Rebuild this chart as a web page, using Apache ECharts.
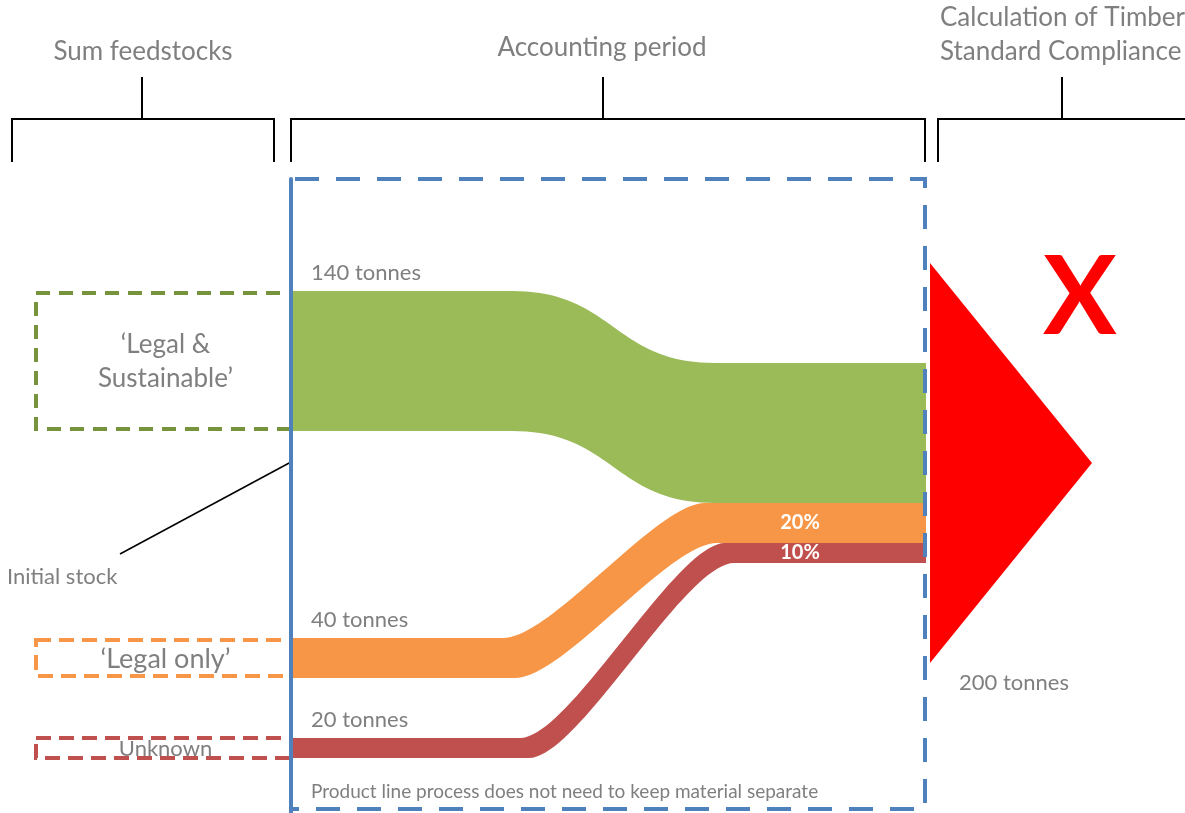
<!DOCTYPE html>
<html>
<head>
<meta charset="utf-8">
<script src="https://cdn.jsdelivr.net/npm/echarts@6/dist/echarts.min.js"></script>
<style>
  html, body { margin: 0; padding: 0; background: #ffffff; }
  #chart { width: 1185px; height: 813px; }
</style>
</head>
<body>
<div id="chart"></div>
<script>
// Feedstock categories and their input quantities (tonnes)
const categories = ['\u2018Legal &\nSustainable\u2019', '\u2018Legal only\u2019', 'Unknown'];
const tonnes = [140, 40, 20];
const unitLabel = 'tonnes';
const showShare = [false, true, true];

// Section headings above the brackets
const headings = ['Sum feedstocks', 'Accounting period', 'Calculation of Timber\nStandard Compliance'];
const footnote = 'Product line process does not need to keep material separate';
const stockLabel = 'Initial stock';

// Colours per category
const bandColors = ['#9bbb59', '#f79646', '#c0504d'];
const boxColors = ['#77933c', '#f79646', '#c0504d'];
const labelSize = [26, 27, 22];

// Layout of the flow (axis units, 1 unit = 1 tonne = 1 px)
const flowLeft = 291, flowRight = 926, boxLeft = 36;
const leftTop = [291, 638, 738];
const curveStart = [512, 503, 520];
const curveEnd = [715, 705, 725];
const curveShift = [0, 12, 9];
const tension = [0.5, 0.24, 0.24];
const stackTop = 363;
const shareX = 800;

const total = tonnes.reduce((a, b) => a + b, 0);
const FONT = 'Lato, "Open Sans", sans-serif';
const GREY = '#7f7f7f';

function cubic(p0, p1, p2, p3, t) {
  const u = 1 - t;
  return u * u * u * p0 + 3 * u * u * t * p1 + 3 * u * t * t * p2 + t * t * t * p3;
}

function curvePoints(api, xa, xb, y0, y1, k, steps) {
  const pts = [];
  const dx = xb - xa;
  for (let s = 0; s <= steps; s++) {
    const t = s / steps;
    const x = cubic(xa, xa + k * dx, xb - k * dx, xb, t);
    const y = cubic(y0, y0, y1, y1, t);
    pts.push(api.coord([x, y]));
  }
  return pts;
}

function renderBand(params, api) {
  const i = api.value(0);
  const v = api.value(1);
  const before = tonnes.slice(0, i).reduce((a, b) => a + b, 0);
  const yL = leftTop[i];
  const yR = stackTop + before;
  const xa = curveStart[i], xb = curveEnd[i], s = curveShift[i], k = tension[i];

  const top = curvePoints(api, xa, xb, yL, yR, k, 40);
  const bottom = curvePoints(api, xa + s, xb + s, yL + v, yR + v, k, 40).reverse();
  const points = [api.coord([flowLeft, yL])]
    .concat(top)
    .concat([api.coord([flowRight, yR]), api.coord([flowRight, yR + v])])
    .concat(bottom)
    .concat([api.coord([flowLeft, yL + v])]);

  const pL = api.coord([boxLeft, yL]);
  const pR = api.coord([flowLeft, yL + v]);
  const h = api.size([0, v])[1];
  const inset = h > 30 ? 2 : 0;

  const children = [
    {
      type: 'polygon',
      shape: { points: points },
      style: { fill: bandColors[i] },
      z2: 1
    },
    {
      type: 'rect',
      shape: { x: pL[0], y: pL[1] + inset, width: pR[0] - pL[0], height: h - 2 * inset },
      style: { fill: null, stroke: boxColors[i], lineWidth: 4, lineDash: i === 0 ? [14, 9] : [15, 8] },
      z2: 2
    },
    {
      type: 'text',
      style: {
        text: categories[i],
        x: (pL[0] + pR[0]) / 2 + 2,
        y: pL[1] + h / 2 + 1,
        align: 'center', textAlign: 'center',
        verticalAlign: 'middle', textVerticalAlign: 'middle',
        font: labelSize[i] + 'px ' + FONT,
        lineHeight: 34,
        fill: GREY
      },
      z2: 3
    },
    {
      type: 'text',
      style: {
        text: v + ' ' + unitLabel,
        x: api.coord([flowLeft + 20, 0])[0],
        y: api.coord([0, yL - 7])[1],
        align: 'left', textAlign: 'left',
        verticalAlign: 'bottom', textVerticalAlign: 'bottom',
        font: '22px ' + FONT,
        fill: GREY
      },
      z2: 3
    }
  ];
  if (showShare[i]) {
    const c = api.coord([shareX, yR + v / 2]);
    children.push({
      type: 'text',
      style: {
        text: Math.round(v / total * 100) + '%',
        x: c[0], y: c[1],
        align: 'center', textAlign: 'center',
        verticalAlign: 'middle', textVerticalAlign: 'middle',
        font: 'bold 20px ' + FONT,
        fill: '#ffffff'
      },
      z2: 4
    });
  }
  return { type: 'group', children: children };
}

// Output arrow: height scales with total output
function renderOutput(params, api) {
  const v = api.value(1);
  const mid = stackTop + v / 2;
  const base = api.coord([930, mid - v]);
  const baseB = api.coord([930, mid + v]);
  const tip = api.coord([1092, mid]);
  return {
    type: 'group',
    children: [
      { type: 'polygon', shape: { points: [base, tip, baseB] }, style: { fill: '#ff0000' } },
      {
        type: 'text',
        style: {
          text: v + ' ' + unitLabel,
          x: api.coord([959, 0])[0], y: baseB[1] + 20,
          align: 'left', textAlign: 'left',
          verticalAlign: 'middle', textVerticalAlign: 'middle',
          font: '22px ' + FONT, fill: GREY
        }
      }
    ]
  };
}

const chart = echarts.init(document.getElementById('chart'), null, { renderer: 'canvas' });

const line = (pts, extra) => Object.assign({
  type: 'polyline', shape: { points: pts },
  style: { stroke: '#000000', lineWidth: 2, fill: null }, z: 50
}, extra || {});

const headText = (txt, x, y, align) => ({
  type: 'text', z: 50,
  style: {
    text: txt, x: x, y: y,
    align: align || 'center', textAlign: align || 'center',
    verticalAlign: 'middle', textVerticalAlign: 'middle',
    font: '26px ' + FONT, fill: GREY, lineHeight: 34
  }
});

chart.setOption({
  animation: false,
  grid: { left: 0, right: 0, top: 0, bottom: 0 },
  xAxis: { type: 'value', min: 0, max: 1185, show: false },
  yAxis: { type: 'value', min: 0, max: 813, inverse: true, show: false },
  series: [
    {
      type: 'custom',
      renderItem: renderBand,
      data: tonnes.map((v, i) => [i, v]),
      z: 2
    },
    {
      type: 'custom',
      renderItem: renderOutput,
      data: [[0, total]],
      z: 3
    }
  ],
  graphic: [
    // brackets
    line([[12, 162], [12, 119], [274, 119], [274, 162]]),
    line([[142, 77], [142, 119]]),
    line([[291, 162], [291, 119], [925, 119], [925, 162]]),
    line([[603, 77], [603, 119]]),
    line([[938, 162], [938, 119], [1190, 119]]),
    line([[1062, 77], [1062, 119]]),
    headText(headings[0], 143, 52),
    headText(headings[1], 602, 48),
    headText(headings[2], 940, 35, 'left'),
    // accounting period boundary
    {
      type: 'rect', z: 60,
      shape: { x: 291, y: 179, width: 634, height: 630 },
      style: { fill: null, stroke: '#4f81bd', lineWidth: 4, lineDash: [24, 17], lineDashOffset: -4 }
    },
    {
      type: 'line', z: 61,
      shape: { x1: 291, y1: 179, x2: 291, y2: 815 },
      style: { stroke: '#4f81bd', lineWidth: 4, lineCap: 'round' }
    },
    // initial stock pointer
    {
      type: 'line', z: 50,
      shape: { x1: 120, y1: 554, x2: 291, y2: 462 },
      style: { stroke: '#000000', lineWidth: 1.5 }
    },
    {
      type: 'text', z: 50,
      style: {
        text: stockLabel, x: 7, y: 577,
        align: 'left', textAlign: 'left',
        verticalAlign: 'middle', textVerticalAlign: 'middle',
        font: '22px ' + FONT, fill: GREY
      }
    },
    {
      type: 'text', z: 50,
      style: {
        text: footnote, x: 311, y: 792,
        align: 'left', textAlign: 'left',
        verticalAlign: 'middle', textVerticalAlign: 'middle',
        font: '19px ' + FONT, fill: GREY
      }
    },
    {
      type: 'text', z: 50,
      style: {
        text: 'X', x: 1080, y: 299,
        align: 'center', textAlign: 'center',
        verticalAlign: 'middle', textVerticalAlign: 'middle',
        font: 'bold 110px ' + FONT, fill: '#ff0000'
      }
    }
  ]
});
</script>
</body>
</html>
